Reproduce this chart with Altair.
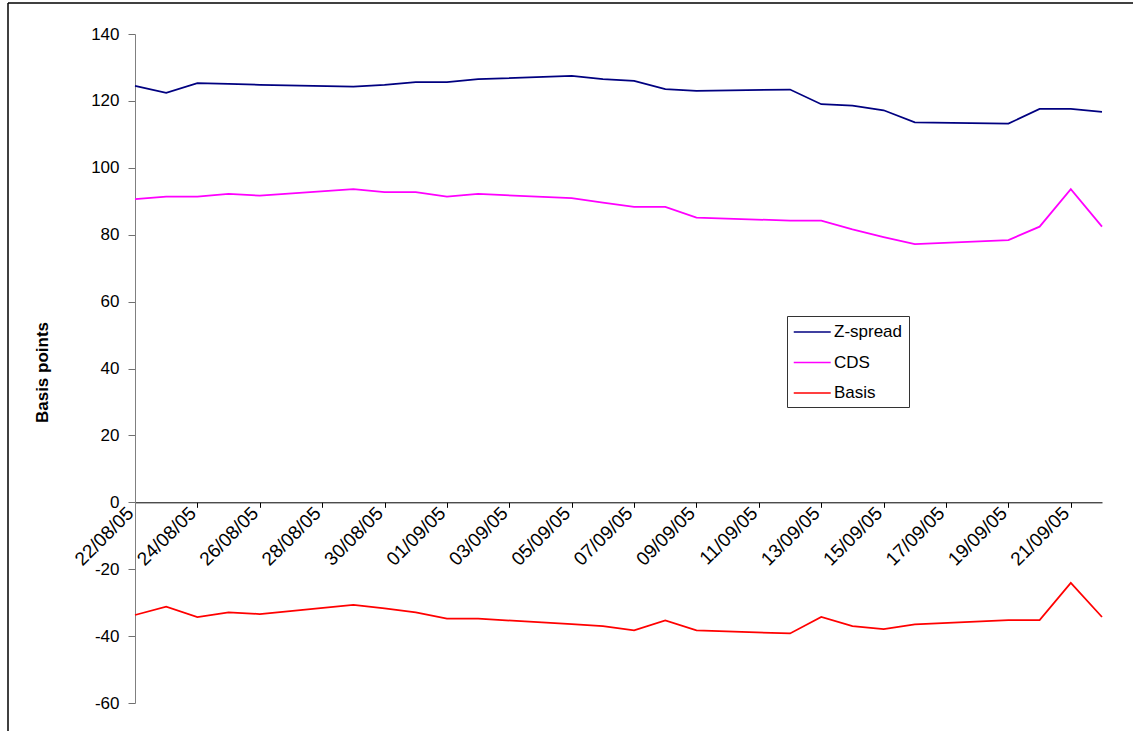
import altair as alt
import pandas as pd

dates = ["2005-08-22", "2005-08-23", "2005-08-24", "2005-08-25", "2005-08-26",
         "2005-08-29", "2005-08-30", "2005-08-31", "2005-09-01", "2005-09-02",
         "2005-09-05", "2005-09-06", "2005-09-07", "2005-09-08", "2005-09-09",
         "2005-09-12", "2005-09-13", "2005-09-14", "2005-09-15", "2005-09-16",
         "2005-09-19", "2005-09-20", "2005-09-21", "2005-09-22"]

z_spread = [124.5, 122.4, 125.3, 125.1, 124.8, 124.3, 124.8, 125.6, 125.6, 126.5,
            127.5, 126.5, 126.0, 123.5, 123.0, 123.4, 119.0, 118.6, 117.2, 113.6,
            113.2, 117.6, 117.6, 116.7]

cds = [90.6, 91.4, 91.4, 92.2, 91.7, 93.6, 92.7, 92.7, 91.4, 92.2,
       90.9, 89.6, 88.3, 88.3, 85.1, 84.2, 84.2, 81.6, 79.3, 77.2,
       78.4, 82.4, 93.6, 82.4]

basis = [-33.7, -31.2, -34.3, -32.9, -33.4, -30.7, -31.7, -32.9, -34.8, -34.8,
         -36.4, -37.0, -38.3, -35.3, -38.3, -39.2, -34.3, -37.0, -37.9, -36.5,
         -35.2, -35.2, -24.1, -34.3]

series_names = ["Z-spread", "CDS", "Basis"]
series_colors = ["#000080", "#FF00FF", "#FF0000"]
tick_days = [(8, d) for d in range(22, 32, 2)] + [(9, d) for d in range(1, 22, 2)]
y_ticks = list(range(-60, 141, 20))

rows = []
for name, vals in zip(series_names, [z_spread, cds, basis]):
    for d, v in zip(dates, vals):
        rows.append({"date": d, "value": v, "series": name})
df = pd.DataFrame(rows)

FONT = "Liberation Sans"

x_enc = alt.X(
    "date:T",
    scale=alt.Scale(
        type="utc",
        domain=[alt.DateTime(year=2005, month=8, date=22, utc=True),
                alt.DateTime(year=2005, month=9, date=22, utc=True)],
    ),
    axis=alt.Axis(
        values=[alt.DateTime(year=2005, month=m, date=d, utc=True) for m, d in tick_days],
        labelExpr="utcFormat(datum.value, '%d/%m/%y')",
        labelAngle=315, labelAlign="right", labelBaseline="middle",
        offset=-200.7, domainColor="black", tickColor="black", tickSize=5,
        labelPadding=2.5, labelOffset=-5, grid=False, title=None,
        labelFont=FONT, labelFontSize=19,
        labelColor="black", labelOverlap=False, labelFlush=False,
    ),
)

y_enc = alt.Y(
    "value:Q",
    scale=alt.Scale(domain=[-60, 140], nice=False, zero=False),
    axis=alt.Axis(
        values=y_ticks, labelExpr="datum.value + ''",
        title="Basis points", titleFont=FONT, titleFontSize=17,
        titleFontWeight="bold", titleColor="black", titleAngle=270,
        titleX=-93, titleY=338, titleAlign="center", titleBaseline="middle",
        labelFont=FONT, labelFontSize=17, labelColor="black", tickSize=7,
        labelPadding=9, domainColor="#808080", tickColor="#707070", grid=False,
    ),
)

lines = alt.Chart(df).mark_line(strokeWidth=1.75).encode(
    x=x_enc,
    y=y_enc,
    color=alt.Color(
        "series:N",
        scale=alt.Scale(domain=series_names, range=series_colors),
        legend=alt.Legend(
            title=None, orient="none", legendX=652, legendY=282,
            symbolType="M-1,0H3", symbolSize=342, symbolStrokeWidth=1.5,
            labelOffset=21, rowPadding=12.5, padding=6,
            strokeColor="#333333", fillColor="white",
            labelFont=FONT, labelFontSize=17, labelColor="black",
        ),
    ),
)

frame_df = pd.DataFrame({"a": [0]})
frame_top = alt.Chart(frame_df).mark_rule(color="black", strokeWidth=1.5).encode(
    x=alt.value(-127), x2=alt.value(998), y=alt.value(-31)
)
frame_left = alt.Chart(frame_df).mark_rule(color="black", strokeWidth=1.5).encode(
    x=alt.value(-127), y=alt.value(-31), y2=alt.value(700)
)

chart = alt.layer(lines, frame_top, frame_left).properties(
    width=967, height=669,
    background="white",
    autosize=alt.AutoSizeParams(type="none"),
    padding={"left": 135, "top": 34, "right": 33, "bottom": 28},
).configure_view(stroke=None)

chart.save("out.html", embed_options={"renderer": "svg", "actions": False})
